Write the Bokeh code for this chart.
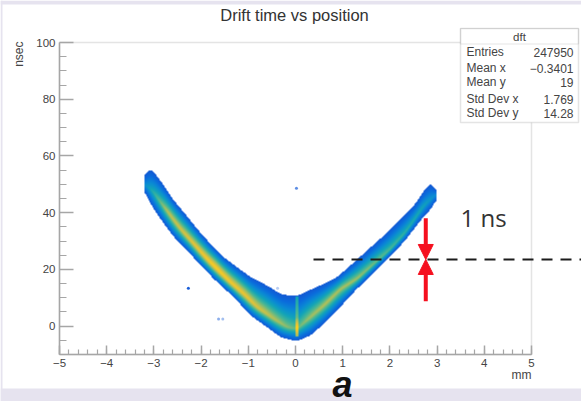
import numpy as np
from bokeh.plotting import figure
from bokeh.embed import file_html
from bokeh.resources import INLINE
from bokeh.models import (Label, BoxAnnotation, Arrow, NormalHead, LinearColorMapper,
                          FixedTicker)

# --- values ---
title_text = "Drift time vs position"
x_ticks = [-5, -4, -3, -2, -1, 0, 1, 2, 3, 4, 5]
y_ticks = [0, 20, 40, 60, 80, 100]
stats_names = ["Entries", "Mean x", "Mean y", "Std Dev x", "Std Dev y"]
stats_values = ["247950", "\u22120.3401", "19", "1.769", "14.28"]

upper_x = [-3.2, -3.107, -2.966, -2.79, -2.578, -2.366, -2.083, -1.801, -1.519, -1.236, -0.954, -0.6, -0.318, -0.247,
           0.07, 0.282, 0.6, 0.883, 1.165, 1.518, 1.836, 2.225, 2.542, 2.719, 2.895, 2.98]
upper_y = [52.5, 55.8, 53.7, 49.6, 44.3, 40.2, 34.3, 29.0, 24.3, 20.8, 17.3, 14.3, 11.4, 11.0,
           10.8, 12.6, 14.9, 17.3, 21.4, 26.7, 31.4, 37.8, 43.1, 47.8, 50.7, 47.2]
lower_x = [-3.2, -3.072, -2.86, -2.578, -2.295, -2.013, -1.66, -1.307, -0.954, -0.6, -0.318, -0.036, 0.035,
           0.318, 0.6, 0.883, 1.236, 1.589, 1.942, 2.295, 2.648, 2.93, 2.98]
lower_y = [47.8, 43.1, 37.8, 31.4, 26.7, 21.4, 15.5, 10.2, 3.8, -0.4, -3.9, -5.1, -5.3,
           -3.3, 0.8, 5.5, 12.0, 17.8, 23.7, 29.6, 37.2, 42.5, 44.9]
ridge_x = [-3.2, -3.037, -2.86, -2.648, -2.437, -2.154, -1.872, -1.66, -1.377, -1.095, -0.812, -0.459, -0.177, 0.035,
           0.318, 0.6, 0.953, 1.306, 1.66, 2.013, 2.33, 2.719, 2.98]
ridge_y = [50.0, 47.8, 43.7, 39.0, 34.3, 29.0, 23.7, 20.2, 15.5, 11.4, 6.7, 2.6, -0.4, -1.0,
           3.2, 7.3, 13.1, 16.7, 22.0, 27.2, 33.1, 42.5, 46.5]
peak_x = [-3.2, -3.0, -2.7, -2.2, -1.7, -1.0, -0.3, 0.0, 0.3, 0.7, 1.3, 1.8, 2.3, 2.7, 2.98]
peak_v = [0.30, 0.52, 0.78, 0.88, 1.0, 0.90, 0.72, 0.62, 0.72, 0.76, 0.72, 0.62, 0.52, 0.44, 0.30]
spike_x = [0.03]
spike_y = [10.5, 3.0, -0.5, -3.5]
spike_v = [0.42, 0.62, 1.0, 0.7]
stray_x = [-2.27, -1.63, -1.54, 0.02, -0.38]
stray_y = [13.4, 2.5, 2.5, 48.6, 13.4]
stray_a = [1.0, 0.5, 0.4, 0.7, 0.3]

level_marker = 23.5
arrow_x = 2.76
arrow_from_above = 38.0
arrow_from_below = 8.8

palette_stops = ["#1455d2", "#0a6cdc", "#0a8ad4", "#12a4b8", "#48b694", "#a2bf62", "#e2c23a", "#fcd01c"]

# --- layout (page pixels) ---
W, H = 581, 401
FL, FR, FT, FB = 59, 531, 42, 354


def dx(px):
    return -5 + (px - FL) * 10 / (FR - FL)


def dy(py):
    return 100 - (py - FT) * 110 / (FB - FT)


GREY = "#a6a6a6"
TEXT = "#444444"
FONT = "Liberation Sans"
PAGE = "#e6e3ef"

# the frame fills the whole canvas, so that texts and lines may lie outside the axes' box
p = figure(width=W, height=H, output_backend="svg", toolbar_location=None,
           x_range=(dx(0), dx(W)), y_range=(dy(H), dy(0)),
           min_border=0, background_fill_color="white", border_fill_color="white",
           outline_line_color=None)
p.grid.visible = False

for ax, ticks, minors in ((p.xaxis[0], x_ticks, [round(-5 + i * 0.2, 1) for i in range(51)]),
                          (p.yaxis[0], y_ticks, [-5 + i * 5 for i in range(21)])):
    ax.ticker = FixedTicker(ticks=ticks, minor_ticks=minors)
    ax.major_label_overrides = {t: str(t).replace("-", "\u2212") for t in ticks}
    ax.axis_line_color = GREY
    ax.axis_line_width = 1.5
    ax.major_tick_line_color = GREY
    ax.major_tick_line_width = 1.5
    ax.minor_tick_line_color = GREY
    ax.minor_tick_line_width = 1.2
    ax.major_tick_out = 0
    ax.minor_tick_out = 0
    ax.major_label_text_font = FONT
    ax.major_label_text_font_size = "11.5px"
    ax.major_label_text_color = TEXT
    ax.major_label_standoff = 4
p.xaxis[0].major_tick_in = 9
p.xaxis[0].minor_tick_in = 5
p.yaxis[0].major_tick_in = 14
p.yaxis[0].minor_tick_in = 7
p.xaxis[0].fixed_location = -10
p.yaxis[0].fixed_location = -5
p.xaxis[0].bounds = (-5, 5)
p.yaxis[0].bounds = (-10, 100)

# --- density band, shaded from the edges, ridge and peak levels read above ---
cols = FR - FL
rows = FB - FT
gx = np.linspace(-5, 5, cols, endpoint=False) + 5 / cols
gy = np.linspace(-10, 100, rows, endpoint=False) + 55 / rows


def soften(a, n=7):
    # evens out the kinks between the read points
    pad = np.pad(a, n // 2, mode="edge")
    return np.convolve(pad, np.ones(n) / n, mode="valid")


up = soften(np.interp(gx, upper_x, upper_y))
lo = soften(np.interp(gx, lower_x, lower_y))
ri = soften(np.interp(gx, ridge_x, ridge_y))
pk = soften(np.interp(gx, peak_x, peak_v))
X, Y = np.meshgrid(gx, gy)
UP, LO, RI, PK = (np.tile(a, (rows, 1)) for a in (up, lo, ri, pk))
t = np.where(Y >= RI, (Y - RI) / np.maximum(UP - RI, 0.1), (RI - Y) / np.maximum(RI - LO, 0.1))
V = 0.02 + (PK - 0.02) * np.clip(1 - t, 0, 1) ** 1.1
stripe = np.abs(X - spike_x[0]) < 0.035
sv = np.interp(Y, spike_y[::-1], spike_v[::-1])
V = np.where(stripe & (Y <= spike_y[0]) & (Y >= spike_y[-1]), np.maximum(V, sv), V)
V[(t > 1) | (X < upper_x[0]) | (X > upper_x[-1])] = np.nan

stops = np.array([[int(c[i:i + 2], 16) for i in (1, 3, 5)] for c in palette_stops], dtype=float)
pos = np.linspace(0, 1, len(stops))
palette = ["#%02x%02x%02x" % tuple(int(round(np.interp(s, pos, stops[:, k]))) for k in range(3))
           for s in np.linspace(0, 1, 256)]
mapper = LinearColorMapper(palette=palette, low=0, high=1, nan_color=(0, 0, 0, 0))
p.image(image=[V], x=-5, y=-10, dw=10, dh=110, color_mapper=mapper)

p.scatter(stray_x, stray_y, size=3, color="#1a5ed8", alpha=stray_a, line_color=None)

# --- page bands around the picture ---
for l, r, t_, b in ((0, W, 388, H), (0, W, 0, 4), (0, 2, 0, H)):
    p.add_layout(BoxAnnotation(left=dx(l), right=dx(r), top=dy(t_), bottom=dy(b),
                               fill_color=PAGE, fill_alpha=1, line_color=None, level="underlay"))

# axes' box: top and right sides
p.add_layout(BoxAnnotation(left=-5, right=5, top=100, bottom=-10, fill_alpha=0,
                           line_color=GREY, line_width=1.5, level="guide"))

# --- annotations ---
p.add_layout(Arrow(end=None, x_start=dx(313), x_end=dx(W), y_start=level_marker, y_end=level_marker,
                   line_color="#1c1c1c", line_width=2.2, line_dash="11 8"))
for start in (arrow_from_above, arrow_from_below):
    p.add_layout(Arrow(end=NormalHead(size=15, fill_color="#f5101f", line_color="#f5101f"),
                       x_start=arrow_x, x_end=arrow_x, y_start=start, y_end=level_marker,
                       line_color="#f5101f", line_width=4))

# statistics box (before its texts, so that they lie on top)
p.add_layout(BoxAnnotation(left=dx(460), right=dx(578), top=dy(28), bottom=dy(122),
                           fill_color="white", fill_alpha=1, line_color=GREY, line_width=1.5, level="annotation"))
p.add_layout(BoxAnnotation(left=dx(460), right=dx(578), top=dy(28), bottom=dy(43.5),
                           fill_alpha=0, line_color=GREY, line_width=1.2, level="annotation"))


def text(px, py, s, size, align="left", color=TEXT, font=FONT, style="normal", angle=0):
    # py is the wanted baseline; the renderer draws "alphabetic" about 0.37 em lower
    y = py - (0.37 * size if angle == 0 else 0)
    p.add_layout(Label(x=dx(px), y=dy(y), text=s, text_font=font, text_font_size=f"{size}px", text_align=align,
                       text_baseline="alphabetic", text_color=color, text_font_style=style, angle=angle,
                       level="overlay"))


text(294, 21, title_text, 16.5, align="center", color="#333333")
text(460, 226, "1 ns", 24, color="#333333", font="Open Sans")
text(332, 397, "a", 36, color="#111111", style="bold italic")
text(531, 379, "mm", 12, align="right")
text(18.5, 41, "nsec", 12, align="right", angle=np.pi / 2)

text(519, 41, "dft", 11.5, align="center")
for py, name, val in zip([56, 72, 86, 103, 117], stats_names, stats_values):
    text(466, py, name, 12)
    text(573, py, val, 12, align="right")

open("out.html", "w").write(file_html(p, INLINE))
